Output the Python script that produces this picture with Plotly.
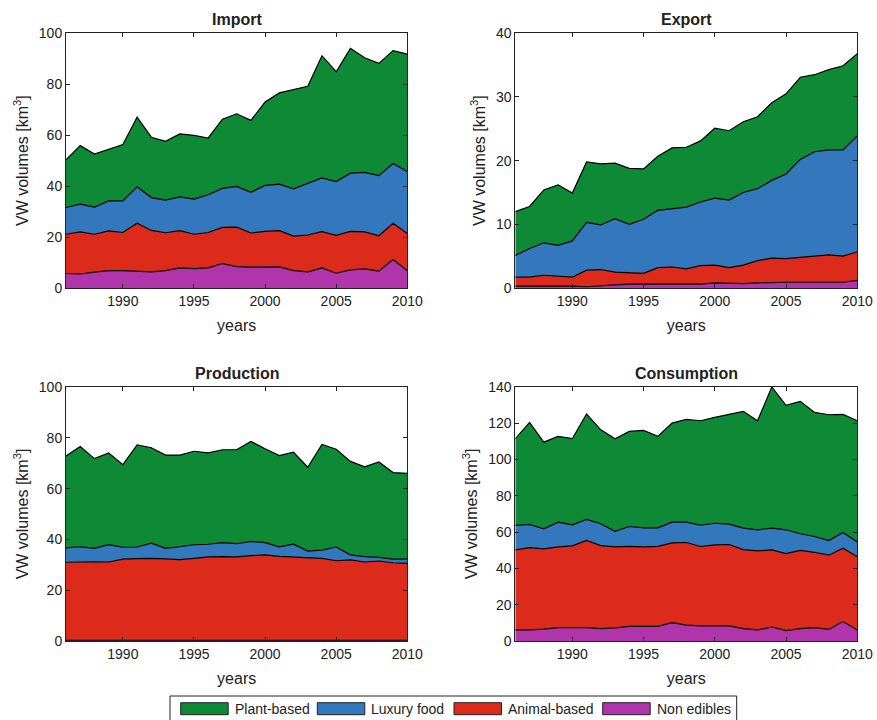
import plotly.graph_objects as go

years = list(range(1986, 2011))

# Import
imp_non = [5.7,5.5,6.2,6.8,6.8,6.6,6.3,6.8,7.9,7.6,7.9,9.6,8.4,8.2,8.3,8.3,6.8,6.3,7.9,5.8,7.1,7.5,6.6,11.2,6.8]
imp_animal = [15.4,16.5,14.9,15.6,15.0,18.8,16.3,14.9,14.6,13.5,13.9,14.2,15.5,13.4,13.9,14.2,13.6,14.5,14.2,14.9,15.1,14.5,13.9,14.2,14.6]
imp_luxury = [10.5,10.9,10.7,11.8,12.4,14.3,12.9,12.8,13.3,13.8,14.8,15.3,16.0,16.0,18.1,18.3,18.5,20.3,21.1,21.1,22.9,23.4,23.6,23.5,24.3]
imp_plant = [18.7,23.0,20.8,20.4,22.1,27.4,23.7,23.1,24.7,25.0,22.3,27.2,28.5,28.2,32.7,35.8,39.1,38.1,48.0,43.1,49.0,45.0,44.1,44.3,46.1]

# Export
exp_non = [0.3,0.3,0.4,0.4,0.3,0.2,0.4,0.5,0.6,0.6,0.6,0.6,0.5,0.6,0.8,0.7,0.7,0.8,0.9,0.9,0.9,0.9,0.9,0.9,1.2]
exp_animal = [1.4,1.4,1.6,1.4,1.4,2.6,2.5,2.0,1.8,1.7,2.6,2.7,2.5,2.9,2.8,2.5,2.9,3.5,3.8,3.7,3.9,4.1,4.3,4.1,4.5]
exp_luxury = [3.4,4.5,5.1,4.9,5.7,7.5,7.0,8.4,7.6,8.5,9.0,9.2,9.7,10.0,10.5,10.6,11.4,11.3,12.2,13.3,15.4,16.4,16.5,16.7,18.2]
exp_plant = [6.9,6.6,8.3,9.5,7.5,9.5,9.6,8.7,8.8,7.9,8.5,9.5,9.4,9.6,11.0,10.9,11.1,11.3,12.2,12.6,12.9,12.1,12.6,13.2,12.9]

# Production
prod_non = [0.3]*25
prod_animal = [30.7,30.9,30.9,30.8,31.9,32.1,32.2,32.0,31.7,32.2,32.8,32.9,32.8,33.3,33.6,33.0,32.8,32.5,32.2,31.3,31.6,30.8,31.2,30.5,30.3]
prod_luxury = [5.7,5.9,5.3,6.8,4.7,4.6,6.0,4.2,5.1,5.4,5.0,5.5,5.2,5.6,4.8,3.8,5.0,2.6,3.3,5.4,2.0,2.1,1.4,1.4,1.6]
prod_plant = [36.1,39.5,35.3,36.1,32.5,40.2,37.6,36.7,36.1,36.8,36.0,36.6,37.0,39.4,37.0,35.9,36.2,33.0,41.6,38.5,36.8,35.4,37.6,34.1,33.8]

# Consumption
con_non = [6.1,6.1,6.6,7.4,7.4,7.4,6.8,7.2,8.1,7.9,8.1,10.1,8.8,8.3,8.3,8.3,6.8,6.1,7.7,5.7,6.8,7.4,6.4,10.7,6.1]
con_animal = [44.1,45.4,44.2,44.5,45.0,48.0,45.8,44.7,44.1,44.0,44.1,44.0,45.5,43.8,44.7,44.9,43.6,43.6,42.5,42.5,43.1,41.5,40.9,40.4,40.3]
con_luxury = [13.5,12.7,11.0,13.6,11.6,11.6,12.0,8.6,10.9,10.5,10.2,11.4,11.2,11.7,11.9,11.2,11.8,11.6,12.0,13.1,9.2,8.7,8.1,8.7,8.1]
con_plant = [47.8,56.3,47.8,47.3,47.5,58.1,51.8,51.0,52.4,53.7,50.4,54.6,56.6,57.6,58.4,60.7,64.4,60.1,77.8,68.6,73.0,68.4,69.3,65.1,66.9]

series_names = ["Non edibles", "Animal-based", "Luxury food", "Plant-based"]
legend_order = ["Plant-based", "Luxury food", "Animal-based", "Non edibles"]
colors = {"Non edibles": "#b034aa", "Animal-based": "#dc2a1b",
          "Luxury food": "#3377bd", "Plant-based": "#0e8a37"}

panels = [
    ("Import", [imp_non, imp_animal, imp_luxury, imp_plant], 100, 20),
    ("Export", [exp_non, exp_animal, exp_luxury, exp_plant], 40, 10),
    ("Production", [prod_non, prod_animal, prod_luxury, prod_plant], 100, 20),
    ("Consumption", [con_non, con_animal, con_luxury, con_plant], 140, 20),
]

W, H = 877, 720
xdoms = [(66/W, 407.3/W), (515.3/W, 857.3/W)]
ydoms = [((H-288)/H, (H-33.3)/H), ((H-641)/H, (H-387)/H)]

fig = go.Figure()
font_family = "Liberation Sans, Arial, sans-serif"
txt = "#222222"

for i, (title, vals, ymax, dt) in enumerate(panels):
    n = i + 1
    xa = "x" if n == 1 else f"x{n}"
    ya = "y" if n == 1 else f"y{n}"
    for name, v in zip(series_names, vals):
        fig.add_trace(go.Scatter(
            x=years, y=v, mode="lines", stackgroup=f"s{n}",
            name=name, showlegend=False,
            line=dict(color="black", width=1.2),
            fillcolor=colors[name], xaxis=xa, yaxis=ya,
            hoverinfo="x+y+name"))
    col, row = i % 2, i // 2
    xkey = "xaxis" if n == 1 else f"xaxis{n}"
    ykey = "yaxis" if n == 1 else f"yaxis{n}"
    fig.layout[xkey] = dict(
        domain=xdoms[col], anchor=ya, range=[1986, 2010], automargin=False,
        tickvals=[1990, 1995, 2000, 2005, 2010],
        ticks="inside", ticklen=4, tickcolor="#222", mirror="ticks",
        showline=True, linecolor="#222", linewidth=1, showgrid=False,
        zeroline=False, tickfont=dict(size=14, color=txt, family=font_family),
        title=dict(text="years", font=dict(size=16, color=txt, family=font_family), standoff=12))
    fig.layout[ykey] = dict(
        domain=ydoms[row], anchor=xa, range=[0, ymax], dtick=dt, automargin=False,
        ticks="inside", ticklen=4, tickcolor="#222", mirror="ticks",
        showline=True, linecolor="#222", linewidth=1, showgrid=False,
        zeroline=False, tickfont=dict(size=14, color=txt, family=font_family),
        title=dict(text="VW volumes [km<sup>3</sup>]",
                   font=dict(size=16, color=txt, family=font_family), standoff=6))
    fig.add_annotation(
        text=f"<b>{title}</b>", xref="paper", yref="paper",
        x=(xdoms[col][0] + xdoms[col][1]) / 2, y=ydoms[row][1],
        yshift=3, xanchor="center", yanchor="bottom", showarrow=False,
        font=dict(size=16, color=txt, family=font_family))

# Manual legend (box, swatches, labels)
def px(xp):
    return xp / W

def py(yp):
    return 1 - yp / H

fig.add_shape(type="rect", xref="paper", yref="paper",
              x0=px(170), x1=px(736.7), y0=py(723), y1=py(696),
              line=dict(color="#222", width=1), fillcolor="white", layer="above")
swatch_x = [180.7, 317.3, 454.0, 602.7]
for name, sx in zip(legend_order, swatch_x):
    fig.add_shape(type="rect", xref="paper", yref="paper",
                  x0=px(sx), x1=px(sx + 47.5), y0=py(714.7), y1=py(702.7),
                  line=dict(color="#222", width=1), fillcolor=colors[name], layer="above")
    fig.add_annotation(text=name, xref="paper", yref="paper",
                       x=px(sx + 52), y=py(708.7), xanchor="left", yanchor="middle",
                       showarrow=False, font=dict(size=14, color=txt, family=font_family))

fig.update_layout(
    width=W, height=H, autosize=False,
    margin=dict(l=0, r=0, t=0, b=0),
    paper_bgcolor="white", plot_bgcolor="white",
    font=dict(family=font_family, color=txt),
    showlegend=False,
)

fig.write_html("out.html", config={"displayModeBar": False},
               post_script="document.body.style.margin='0';document.body.style.overflow='hidden';")
